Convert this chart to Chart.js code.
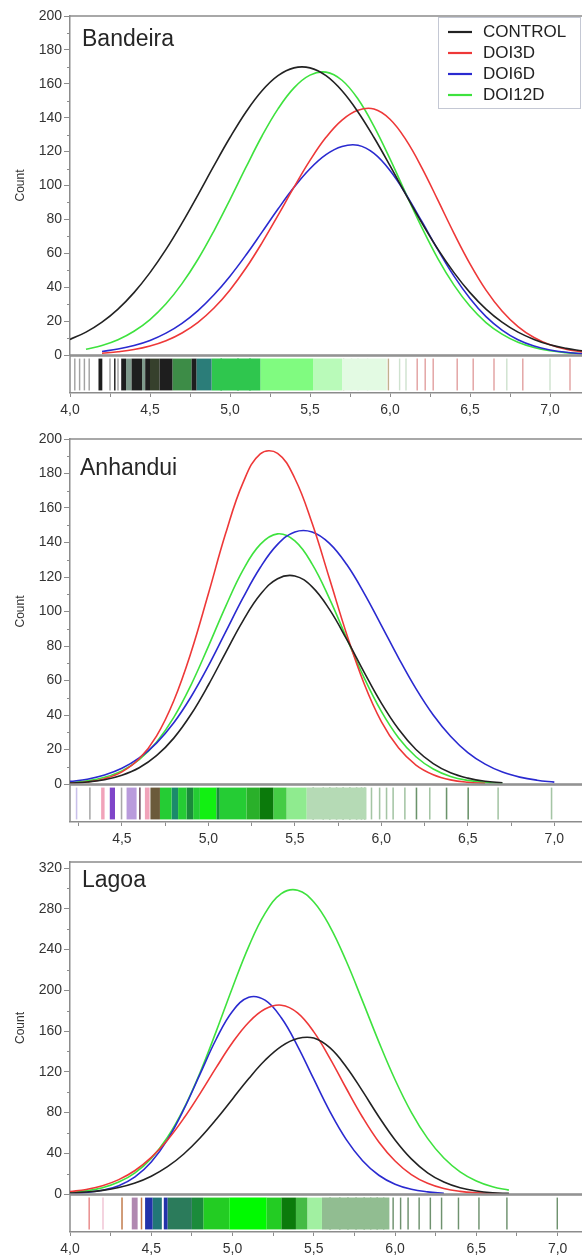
<!DOCTYPE html>
<html>
<head>
<meta charset="utf-8">
<script src="https://cdn.jsdelivr.net/npm/chart.js@4.4.1/dist/chart.umd.min.js"></script>
<style>
  body { margin: 0; background: #fff; }
  #wrap { position: relative; width: 582px; height: 1260px; overflow: hidden; background: #fff; }
  #wrap canvas { position: absolute; left: 0; }
</style>
</head>
<body>
<div id="wrap"></div>
<script>
// ---- data ----
const seriesNames = ['CONTROL', 'DOI3D', 'DOI6D', 'DOI12D'];
const panelNames = ['Bandeira', 'Anhandui', 'Lagoa'];
const xTickValues = [4.0, 4.25, 4.5, 4.75, 5.0, 5.25, 5.5, 5.75, 6.0, 6.25, 6.5, 6.75, 7.0];
const xTickLabels = ['4,0', '', '4,5', '', '5,0', '', '5,5', '', '6,0', '', '6,5', '', '7,0'];

// Bandeira
const xBandeira = [4.0,4.1,4.2,4.3,4.4,4.5,4.6,4.7,4.8,4.9,5.0,5.1,5.2,5.3,5.4,5.5,5.6,5.7,5.8,5.9,6.0,6.1,6.2,6.3,6.4,6.5,6.6,6.7,6.8,6.9,7.0,7.1,7.2];
const bandeiraControl = [9.2,13.5,19.4,27.1,36.8,48.6,62.3,77.8,94.5,111.7,128.3,143.4,155.9,164.8,169.4,169.4,164.8,155.9,143.4,128.3,111.7,94.5,77.8,62.3,48.6,36.8,27.1,19.4,13.5,9.2,6.0,3.9,2.4];
const bandeiraDoi3 = [null,null,1.0,1.9,3.2,5.3,8.4,13.0,19.3,27.7,38.4,51.3,66.2,82.4,99.0,114.8,128.4,138.6,144.4,145.1,139.1,126.9,110.3,91.2,71.8,53.8,38.3,26.0,16.8,10.3,6.0,3.4,1.8];
const bandeiraDoi6 = [null,null,2.1,3.5,5.6,8.6,12.9,18.7,26.2,35.5,46.5,59.0,72.5,86.1,98.9,109.9,118.2,123.0,123.7,118.9,108.8,94.8,78.6,62.0,46.5,33.3,22.6,14.7,9.0,5.3,3.0,1.6,0.8];
const bandeiraDoi12 = [null,3.4,5.6,9.0,14.0,20.9,30.2,42.1,56.5,73.3,91.7,110.8,129.2,145.2,157.6,165.1,166.9,162.1,151.0,134.9,115.7,95.1,75.0,56.7,41.2,28.7,19.1,12.3,7.5,4.4,2.5,1.4,0.7];

// Anhandui
const xAnhandui = [4.2,4.3,4.4,4.5,4.6,4.7,4.8,4.9,5.0,5.1,5.2,5.3,5.4,5.5,5.6,5.7,5.8,5.9,6.0,6.1,6.2,6.3,6.4,6.5,6.6,6.7,6.8,6.9,7.0];
const anhanduiControl = [0.5,1.2,2.5,5.1,9.4,16.4,26.6,40.4,57.4,76.2,94.6,109.8,119.0,120.6,114.3,101.2,83.8,64.9,46.9,31.7,20.0,11.8,6.5,3.4,1.6,0.7,null,null,null];
const anhanduiDoi3 = [0.4,1.2,3.1,7.0,14.6,27.8,48.3,76.4,110.3,145.3,174.6,191.4,191.7,177.1,151.1,119.1,86.7,58.3,36.2,20.8,11.0,5.4,2.4,1.0,0.4,null,null,null,null];
const anhanduiDoi6 = [1.5,2.8,5.2,9.1,15.1,23.7,35.5,50.6,68.5,88.2,107.9,125.5,138.9,146.1,146.1,139.5,127.2,110.7,92.0,73.0,55.3,40.0,27.7,18.2,11.5,6.9,4.0,2.2,1.1];
const anhanduiDoi12 = [0.8,1.8,3.9,7.6,14.1,24.2,38.6,57.5,79.8,103.0,124.0,138.9,145.0,140.9,127.5,107.5,84.4,61.7,42.1,26.7,15.8,8.7,4.4,2.1,0.9,0.4,null,null,null];

// Lagoa
const xLagoa = [4.0,4.1,4.2,4.3,4.4,4.5,4.6,4.7,4.8,4.9,5.0,5.1,5.2,5.3,5.4,5.5,5.6,5.7,5.8,5.9,6.0,6.1,6.2,6.3,6.4,6.5,6.6,6.7];
const lagoaControl = [1.0,1.9,3.6,6.4,10.8,17.5,26.8,39.3,55.0,73.4,93.4,113.4,131.3,145.0,152.7,153.1,143.4,124.8,101.0,75.9,53.1,34.5,20.8,11.7,6.1,3.0,1.3,0.6];
const lagoaDoi3 = [2.3,4.5,8.1,14.1,23.1,35.9,53.0,74.3,98.6,124.3,148.7,168.7,181.6,185.4,177.9,159.2,133.0,103.6,75.4,51.1,32.4,19.1,10.5,5.4,2.6,1.2,0.5,0.2];
const lagoaDoi6 = [0.5,1.5,3.7,8.2,16.8,31.4,53.4,83.0,117.7,152.2,179.5,193.2,190.3,173.0,145.3,112.7,80.7,53.4,32.7,18.4,9.6,4.6,2.1,0.8,null,null,null,null];
const lagoaDoi12 = [1.5,3.1,6.2,11.7,20.8,35.0,55.7,83.8,119.1,159.9,202.8,243.2,275.5,294.9,298.3,286.8,262.4,228.5,189.4,149.4,112.2,80.2,54.6,35.3,21.8,12.8,7.1,3.8];

// rug marks under each plot: single numbers are thin ticks, pairs are dense runs
const bandeiraRugGray = [4.03, 4.06, 4.09, 4.12, 4.25, 4.30];
const bandeiraRugBlack = [[4.178,4.202], 4.28, [4.32,4.35], [4.385,4.45], [4.47,4.50], [4.56,4.64], [4.76,4.79]];
const bandeiraRugSlate = [[4.35,4.385], [4.45,4.47]];
const bandeiraRugOlive = [[4.50,4.56]];
const bandeiraRugMoss = [[4.64,4.76]];
const bandeiraRugTeal = [[4.79,4.885]];
const bandeiraRugGreen = [[4.885,5.19]];
const bandeiraRugDeep = [4.945, 5.05, 5.125];
const bandeiraRugLight = [[5.19,5.52]];
const bandeiraRugPale = [[5.52,5.70]];
const bandeiraRugFaint = [[5.70,5.98]];
const bandeiraRugTan = [5.71, 5.99];
const bandeiraRugMist = [5.76, 5.80, 5.86, 6.06, 6.10, 6.73, 7.0];
const bandeiraRugRose = [6.17, 6.22, 6.27, 6.42, 6.52, 6.65, 6.83, 7.125];

const anhanduiRugLavender = [4.238];
const anhanduiRugGray = [4.315, 4.498];
const anhanduiRugPink = [[4.38,4.40], [4.633,4.66]];
const anhanduiRugViolet = [[4.43,4.46]];
const anhanduiRugLilac = [[4.527,4.585]];
const anhanduiRugPlum = [4.604];
const anhanduiRugBrown = [[4.665,4.72]];
const anhanduiRugGreen = [[4.72,4.787], [4.825,4.874], [4.912,4.951], [5.066,5.22]];
const anhanduiRugTeal = [[4.787,4.825]];
const anhanduiRugDeep = [[4.874,4.912], [5.047,5.066]];
const anhanduiRugLime = [[4.951,5.047]];
const anhanduiRugMid = [[5.22,5.298]];
const anhanduiRugForest = [[5.298,5.375]];
const anhanduiRugLeaf = [[5.375,5.452]];
const anhanduiRugLight = [[5.452,5.568]];
const anhanduiRugSage = [[5.568,5.914]];
const anhanduiRugStripe = [5.606, 5.664, 5.702, 5.741, 5.779, 5.818, 5.857, 5.885, 5.904, 6.203, 6.377, 6.502];
const anhanduiRugSoft = [5.943, 5.99, 6.03, 6.068, 6.136, 6.28, 6.675, 6.984];

const lagoaRugRose = [4.118];
const lagoaRugBlush = [4.203];
const lagoaRugRust = [4.32, 4.44];
const lagoaRugMauve = [[4.38,4.416]];
const lagoaRugNavy = [[4.462,4.508], [4.577,4.60]];
const lagoaRugTeal = [[4.508,4.565]];
const lagoaRugSea = [[4.60,4.75]];
const lagoaRugDeep = [[4.75,4.82]];
const lagoaRugGreen = [[4.82,4.98], [5.21,5.30]];
const lagoaRugLime = [[4.98,5.21]];
const lagoaRugForest = [[5.30,5.39]];
const lagoaRugLeaf = [[5.39,5.46]];
const lagoaRugLight = [[5.46,5.55]];
const lagoaRugSage = [[5.55,5.965]];
const lagoaRugStripe = [5.60, 5.66, 5.71, 5.76, 5.81, 5.85, 5.89, 5.93, 5.988, 6.034, 6.08, 6.148, 6.217, 6.286, 6.39, 6.516, 6.688, 6.998];

// ---- drawing ----
const FONT = "'Liberation Sans', Arial, sans-serif";
const seriesColors = ['#222222', '#ee3838', '#2a2ad0', '#3ee23e'];
const AXIS = '#8c8c8c';

const panels = [
  { top: 16, zero: 355, xMin: 4.0, xMax: 7.2, yMax: 200, yStep: 20, xs: xBandeira,
    series: [bandeiraControl, bandeiraDoi3, bandeiraDoi6, bandeiraDoi12],
    label: { text: panelNames[0], x: 82, y: 46 }, legend: true,
    rug: [
      ['#a2a2a2', bandeiraRugGray], ['#1e1e1e', bandeiraRugBlack], ['#7f9a8c', bandeiraRugSlate],
      ['#36402c', bandeiraRugOlive], ['#3d8c47', bandeiraRugMoss], ['#2b7d79', bandeiraRugTeal],
      ['#2fc64e', bandeiraRugGreen], ['#1c8f4c', bandeiraRugDeep], ['#80fb80', bandeiraRugLight],
      ['#b9fab9', bandeiraRugPale], ['#e3fae3', bandeiraRugFaint], ['#c2b08e', bandeiraRugTan],
      ['#cfe2cf', bandeiraRugMist], ['#e2a2a2', bandeiraRugRose]
    ] },
  { top: 439, zero: 784, xMin: 4.2, xMax: 7.16, yMax: 200, yStep: 20, xs: xAnhandui,
    series: [anhanduiControl, anhanduiDoi3, anhanduiDoi6, anhanduiDoi12],
    label: { text: panelNames[1], x: 80, y: 475 - 423 }, legend: false,
    rug: [
      ['#c9c0ea', anhanduiRugLavender], ['#a9a9a9', anhanduiRugGray], ['#f1a3ba', anhanduiRugPink],
      ['#7f45c9', anhanduiRugViolet], ['#b99bdc', anhanduiRugLilac], ['#6f4f60', anhanduiRugPlum],
      ['#6b5a3a', anhanduiRugBrown], ['#25cc34', anhanduiRugGreen], ['#1b8a6b', anhanduiRugTeal],
      ['#1b8a3b', anhanduiRugDeep], ['#12f012', anhanduiRugLime], ['#2ab02a', anhanduiRugMid],
      ['#0b7a0b', anhanduiRugForest], ['#45cc45', anhanduiRugLeaf], ['#8feb8f', anhanduiRugLight],
      ['#b5dab5', anhanduiRugSage], ['#6b936b', anhanduiRugStripe], ['#a5c5a5', anhanduiRugSoft]
    ] },
  { top: 862, zero: 1194, xMin: 4.0, xMax: 7.15, yMax: 326, yStep: 40, xs: xLagoa,
    series: [lagoaControl, lagoaDoi3, lagoaDoi6, lagoaDoi12],
    label: { text: panelNames[2], x: 82, y: 887 - 846 }, legend: false,
    rug: [
      ['#e88a8a', lagoaRugRose], ['#f0c4d4', lagoaRugBlush], ['#c07848', lagoaRugRust],
      ['#b088b0', lagoaRugMauve], ['#2233aa', lagoaRugNavy], ['#227777', lagoaRugTeal],
      ['#2b7b5b', lagoaRugSea], ['#1b8b3b', lagoaRugDeep], ['#23cc23', lagoaRugGreen],
      ['#00fa00', lagoaRugLime], ['#0b7b0b', lagoaRugForest], ['#45bb45', lagoaRugLeaf],
      ['#a1f0a1', lagoaRugLight], ['#91bd91', lagoaRugSage], ['#6f926f', lagoaRugStripe]
    ] }
];

// box lines plus the short minor ticks half way between the y labels
const frame = {
  id: 'frame',
  afterDraw(chart, args, o) {
    const { ctx, chartArea: a } = chart;
    ctx.save();
    ctx.strokeStyle = AXIS;
    ctx.lineWidth = 1.5;
    ctx.beginPath();
    if (o.top) { ctx.moveTo(a.left, a.top); ctx.lineTo(a.right, a.top); }
    if (o.bottom) { ctx.moveTo(a.left, a.bottom); ctx.lineTo(a.right, a.bottom); }
    if (o.left) { ctx.moveTo(a.left, a.top); ctx.lineTo(a.left, a.bottom); }
    ctx.stroke();
    if (o.minor) {
      const y = chart.scales.y;
      ctx.lineWidth = 1;
      ctx.beginPath();
      for (let v = o.minor / 2; v <= y.max; v += o.minor) {
        const py = Math.round(y.getPixelForValue(v)) + 0.5;
        ctx.moveTo(a.left - 3, py);
        ctx.lineTo(a.left, py);
      }
      ctx.stroke();
    }
    ctx.restore();
  }
};

const panelLabel = {
  id: 'panelLabel',
  afterDraw(chart, args, o) {
    if (!o.text) return;
    const ctx = chart.ctx;
    ctx.save();
    ctx.font = '23px ' + FONT;
    ctx.fillStyle = '#262626';
    ctx.textBaseline = 'alphabetic';
    ctx.fillText(o.text, o.x, o.y);
    ctx.restore();
  }
};

// boxed legend in the top right corner, in series order
const boxLegend = {
  id: 'boxLegend',
  afterDraw(chart, args, o) {
    if (!o.show) return;
    const ctx = chart.ctx;
    ctx.save();
    ctx.strokeStyle = '#c4c8d4';
    ctx.lineWidth = 1;
    ctx.strokeRect(o.x + 0.5, o.y + 0.5, o.w, o.h);
    ctx.font = '17px ' + FONT;
    ctx.textBaseline = 'middle';
    seriesNames.forEach((name, i) => {
      const y = o.y + 15 + i * 21;
      ctx.strokeStyle = seriesColors[i];
      ctx.lineWidth = 2.2;
      ctx.beginPath();
      ctx.moveTo(o.x + 10, y);
      ctx.lineTo(o.x + 34, y);
      ctx.stroke();
      ctx.fillStyle = '#222';
      ctx.fillText(name, o.x + 45, y);
    });
    ctx.restore();
  }
};

const wrap = document.getElementById('wrap');
function addCanvas(top, height, z) {
  const c = document.createElement('canvas');
  c.width = 582;
  c.height = height;
  c.style.cssText = 'top:' + top + 'px;width:582px;height:' + height + 'px;z-index:' + z;
  wrap.appendChild(c);
  return c;
}

const tickFont = { family: FONT, size: 14 };

panels.forEach(p => {
  // curves
  const h = p.zero - p.top + 29;
  new Chart(addCanvas(p.top - 16, h, 2), {
    type: 'line',
    data: {
      datasets: p.series.map((vals, i) => ({
        label: seriesNames[i],
        data: p.xs.map((x, j) => ({ x: x, y: vals[j] })),
        borderColor: seriesColors[i],
        borderWidth: 1.6,
        pointRadius: 0,
        fill: false,
        spanGaps: false,
        tension: 0.4
      }))
    },
    options: {
      responsive: false,
      animation: false,
      devicePixelRatio: 1,
      layout: { padding: { top: 16, bottom: 13, left: 0, right: 0 } },
      scales: {
        x: { type: 'linear', min: p.xMin, max: p.xMax, display: false },
        y: {
          type: 'linear', min: 0, max: p.yMax,
          afterFit: s => { s.width = 70; },
          afterBuildTicks: s => {
            const t = [];
            for (let v = 0; v <= p.yMax; v += p.yStep) t.push({ value: v });
            s.ticks = t;
          },
          ticks: { autoSkip: false, font: tickFont, color: '#333', padding: 2 },
          grid: { drawOnChartArea: false, drawTicks: true, tickLength: 6, color: AXIS },
          border: { color: AXIS, width: 1.5 },
          title: { display: true, text: 'Count', color: '#333', font: { family: FONT, size: 12 }, padding: { top: 13, bottom: 0 } }
        }
      },
      plugins: {
        legend: { display: false },
        tooltip: { enabled: false },
        frame: { top: true, bottom: true, minor: p.yStep },
        panelLabel: p.label,
        boxLegend: { show: p.legend, x: 438, y: 17, w: 142, h: 91 }
      }
    },
    plugins: [frame, panelLabel, boxLegend]
  });

  // rug strip with the x axis
  const rugH = 37;
  new Chart(addCanvas(p.zero - 15, 16 + rugH + 28 + 4, 1), {
    type: 'bar',
    data: {
      labels: ['rug'],
      datasets: p.rug.map(([color, marks]) => ({
        data: marks.map(m => ({ x: typeof m === 'number' ? [m - 0.0045, m + 0.0045] : m, y: 'rug' })),
        backgroundColor: color,
        borderWidth: 0,
        grouped: false,
        barPercentage: 0.86,
        categoryPercentage: 1
      }))
    },
    options: {
      indexAxis: 'y',
      responsive: false,
      animation: false,
      devicePixelRatio: 1,
      layout: { padding: { top: 16, left: 70, right: 0, bottom: 4 } },
      scales: {
        x: {
          type: 'linear', min: p.xMin, max: p.xMax,
          afterFit: s => { s.height = 28; },
          afterBuildTicks: s => {
            s.ticks = xTickValues.filter(v => v >= p.xMin && v <= p.xMax).map(v => ({ value: v }));
          },
          ticks: {
            autoSkip: false,
            maxRotation: 0,
            font: tickFont,
            color: '#333',
            padding: 5,
            callback: v => {
              const i = xTickValues.findIndex(t => Math.abs(t - v) < 1e-6);
              return i >= 0 ? xTickLabels[i] : '';
            }
          },
          grid: { drawOnChartArea: false, drawTicks: true, tickLength: 4, color: AXIS },
          border: { color: AXIS, width: 1.5 }
        },
        y: { type: 'category', display: false }
      },
      plugins: {
        legend: { display: false },
        tooltip: { enabled: false },
        frame: { left: true, top: true }
      }
    },
    plugins: [frame]
  });
});
</script>
</body>
</html>
